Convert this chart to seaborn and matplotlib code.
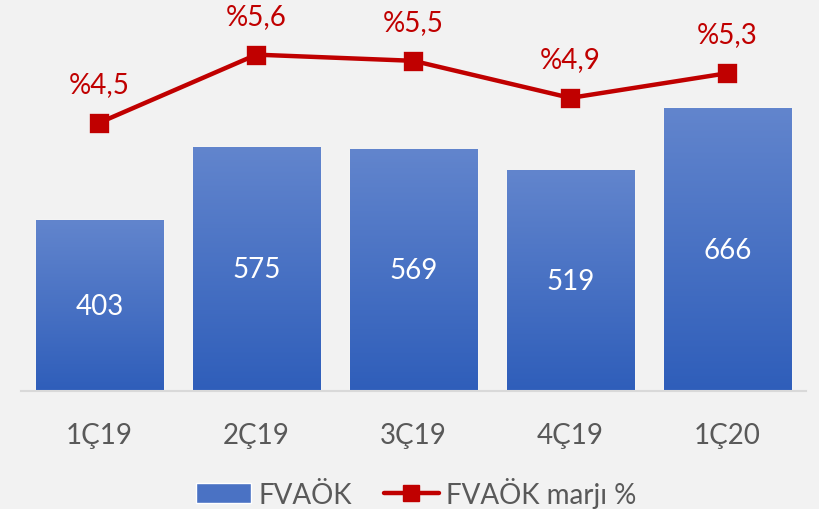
import numpy as np
import matplotlib
matplotlib.use('Agg')
import matplotlib.pyplot as plt
import seaborn as sns
from matplotlib.patches import Patch
from matplotlib.lines import Line2D
from matplotlib.colors import LinearSegmentedColormap

# veriler
quarters = ['1Ç19', '2Ç19', '3Ç19', '4Ç19', '1Ç20']
fvaok = [403, 575, 569, 519, 666]
margin = [4.5, 5.6, 5.5, 4.9, 5.3]
margin_labels = ['%4,5', '%5,6', '%5,5', '%4,9', '%5,3']

bg = '#F2F2F2'
red = '#C00000'
txt = '#595959'

sns.set_style('white')
plt.rcParams['font.family'] = ['Lato', 'DejaVu Sans']

fig = plt.figure(figsize=(8.19, 5.10), dpi=100, facecolor=bg)
ax = fig.add_axes([0.0256, 0.2314, 0.9584, 0.7686])
ax.set_facecolor(bg)

sns.barplot(x=quarters, y=fvaok, color='#4A72C4', width=0.81, ax=ax)

# gradyan çubuklar
cmap = LinearSegmentedColormap.from_list('g', ['#2F5EBA', '#6285CD'])
grad = np.linspace(0, 1, 256).reshape(-1, 1)
for p in ax.patches:
    x0, y0 = p.get_x(), p.get_y()
    w, h = p.get_width(), p.get_height()
    ax.imshow(grad, extent=[x0, x0 + w, y0, y0 + h], origin='lower',
              cmap=cmap, aspect='auto', zorder=2)
    ax.text(x0 + w / 2, y0 + h / 2, f'{h:.0f}', ha='center', va='center',
            color='white', fontsize=20, zorder=3)

ax.set_xlim(-0.5, len(quarters) - 0.5)
ax.set_ylim(0, 924)
ax.set_yticks([])
for s in ['top', 'right', 'left']:
    ax.spines[s].set_visible(False)
ax.spines['bottom'].set_color('#D9D9D9')
ax.spines['bottom'].set_linewidth(1.5)
ax.set_xticks(np.arange(len(quarters)))
ax.set_xticklabels(quarters, fontsize=20, color=txt)
ax.tick_params(axis='x', length=0, pad=22)
# bölme çizgileri
ax.set_xticks(np.arange(len(quarters) + 1) - 0.5, minor=True)
ax.tick_params(axis='x', which='minor', length=9, width=1.5, color='#D9D9D9')

ax2 = ax.twinx()
ax2.set_facecolor('none')
sns.pointplot(x=quarters, y=margin, color=red, markers='s', ax=ax2,
              linewidth=3.2, markersize=11, zorder=4)
ax2.set_ylim(0.16, 6.5)
ax2.set_yticks([])
for s in ax2.spines.values():
    s.set_visible(False)
for i, (m, lab) in enumerate(zip(margin, margin_labels)):
    ax2.annotate(lab, (i, m), xytext=(0, 28), textcoords='offset points',
                 ha='center', va='center', color=red, fontsize=20)
ax2.set_xlim(-0.5, len(quarters) - 0.5)

handles = [Patch(facecolor='#4A72C4', label='FVAÖK'),
           Line2D([0], [0], color=red, lw=3.2, marker='s', markersize=11,
                  label='FVAÖK marjı %')]
leg = fig.legend(handles=handles, loc='center', bbox_to_anchor=(0.508, 0.033),
                 ncol=2, frameon=False, fontsize=20, handlelength=2.0,
                 columnspacing=1.15, handletextpad=0.25, labelcolor=txt)

fig.savefig('out.png', dpi=100, facecolor=bg)
